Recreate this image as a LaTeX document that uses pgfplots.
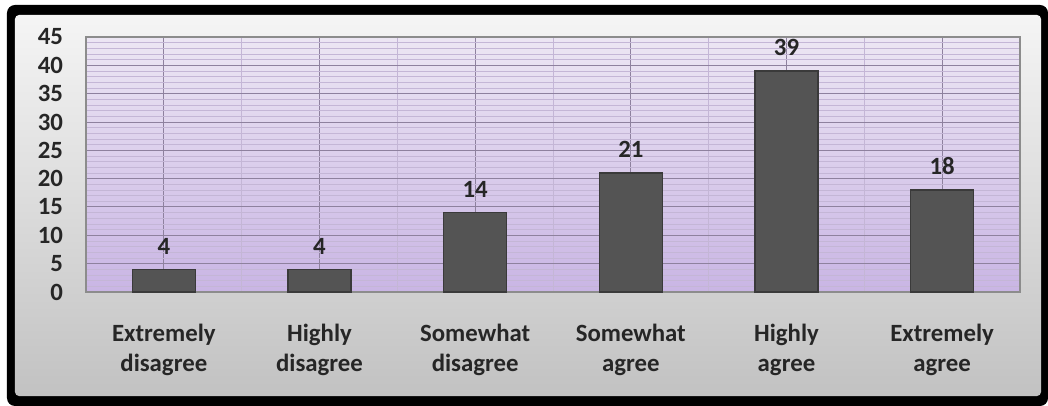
\documentclass[border=0pt]{standalone}
\usepackage{fontspec}
\setmainfont{Carlito}
\usepackage{pgfplots}
\pgfplotsset{compat=1.18}
\definecolor{txt}{HTML}{262626}
\definecolor{lavtop}{HTML}{ECE6F3}
\definecolor{lavbot}{HTML}{C9B5E4}
\definecolor{gridmaj}{HTML}{8E819E}
\definecolor{gridmin}{HTML}{C4B6D6}
\definecolor{barfill}{HTML}{545454}
\definecolor{bardraw}{HTML}{3A3A3A}
\begin{document}
\begin{tikzpicture}[x=1pt,y=1pt]
% frame: px -> pt : x=(px-86)*0.5, y=(292-py)*0.5
\fill[white] (-43,-57) rectangle (481,146);
\fill[black,rounded corners=4pt] (-39.5,-57) rectangle (481,143.5);
\shade[top color=black!4,bottom color=black!24,rounded corners=2pt] (-35.5,-52) rectangle (477.5,138.5);
\begin{axis}[
  at={(0,0)}, anchor=south west,
  scale only axis,
  width=467pt, height=127.5pt,
  xmin=-0.5, xmax=5.5, ymin=0, ymax=45,
  xtick={0,...,5},
  minor xtick={0.5,1.5,...,4.5},
  xticklabels={{Extremely\\disagree},{Highly\\disagree},{Somewhat\\disagree},{Somewhat\\agree},{Highly\\agree},{Extremely\\agree}},
  xticklabel style={align=center,font=\fontsize{12.4}{15}\selectfont\bfseries,text=txt,yshift=-12.5pt},
  ytick={0,5,...,45},
  minor y tick num=4,
  yticklabel style={font=\fontsize{12.4}{14}\selectfont\bfseries,text=txt,xshift=-8pt},
  /pgf/number format/assume math mode=true,
  major tick length=0pt, minor tick length=0pt,
  grid=both,
  major grid style={gridmaj,line width=0.5pt},
  minor grid style={gridmin,line width=0.4pt},
  axis line style={black!45,line width=0.6pt},
  axis background/.style={top color=lavtop,bottom color=lavbot},
  ybar, bar width=31.5pt,
  nodes near coords,
  nodes near coords style={font=\fontsize{12.4}{14}\selectfont\bfseries,text=txt,yshift=4pt},
  clip=false,
]
\addplot[fill=barfill,draw=bardraw,line width=0.6pt] coordinates {(0,4) (1,4) (2,14) (3,21) (4,39) (5,18)};
\end{axis}
\end{tikzpicture}
\end{document}
